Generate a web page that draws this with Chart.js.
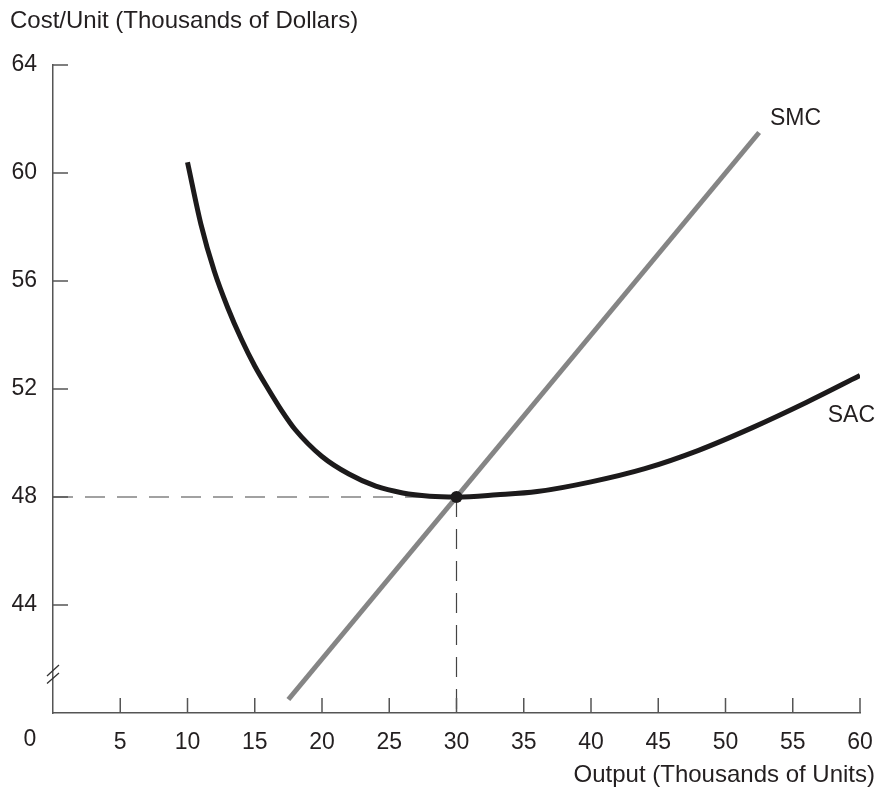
<!DOCTYPE html>
<html>
<head>
<meta charset="utf-8">
<script src="https://cdn.jsdelivr.net/npm/chart.js@4.4.1/dist/chart.umd.min.js"></script>
<style>
  html, body { margin: 0; padding: 0; background: #fff; }
  #wrap { width: 880px; height: 791px; }
</style>
</head>
<body>
<div id="wrap"><canvas id="chart"></canvas></div>
<script>
// output in thousands of units, cost in thousands of dollars
const sacOutput = [10, 11, 12, 13, 14, 15, 16, 17, 18, 20, 22, 24, 26, 28, 30, 33, 36, 40, 44, 48, 52, 56, 60];
const sacCost   = [60.4, 58.1, 56.35, 55.0, 53.85, 52.85, 52.0, 51.2, 50.5, 49.5, 48.85, 48.4, 48.15, 48.03, 48.0, 48.08, 48.2, 48.56, 49.05, 49.73, 50.57, 51.5, 52.5];
const smcOutput = [17.5, 52.5];
const smcCost   = [40.5, 61.5];
const minPoint  = { x: 30, y: 48 };
const xTicks = [0, 5, 10, 15, 20, 25, 30, 35, 40, 45, 50, 55, 60];
const yTicks = [44, 48, 52, 56, 60, 64];

const textColor = '#231f20';
const axisColor = '#555555';
const family = 'Liberation Sans, Arial, sans-serif';
const tickFont = { family: family, size: 23 };
const titleSize = 24;

const pts = (xs, ys) => xs.map((x, i) => ({ x: x, y: ys[i] }));

// inward tick marks, axis break, axis titles and curve labels
const extras = {
  id: 'extras',
  afterDraw(chart) {
    const ctx = chart.ctx;
    const xs = chart.scales.x, ys = chart.scales.y;
    const x0 = xs.getPixelForValue(0), yBase = ys.getPixelForValue(40);
    ctx.save();
    ctx.strokeStyle = axisColor;
    ctx.lineWidth = 1.5;
    ctx.beginPath();
    xTicks.forEach(v => {
      if (v === 0) return;
      const px = xs.getPixelForValue(v);
      ctx.moveTo(px, yBase);
      ctx.lineTo(px, yBase - 15);
    });
    yTicks.forEach(v => {
      const py = ys.getPixelForValue(v);
      ctx.moveTo(x0, py);
      ctx.lineTo(x0 + 15, py);
    });
    ctx.stroke();
    // axis break
    const yb = ys.getPixelForValue(41.5);
    ctx.lineWidth = 1.3;
    ctx.strokeStyle = '#333';
    ctx.beginPath();
    ctx.moveTo(x0 - 6, yb + 3.5); ctx.lineTo(x0 + 6, yb - 7.5);
    ctx.moveTo(x0 - 6, yb + 11); ctx.lineTo(x0 + 6, yb + 0.5);
    ctx.stroke();

    ctx.fillStyle = textColor;
    ctx.textBaseline = 'middle';
    ctx.font = tickFont.size + 'px ' + family;
    ctx.textAlign = 'center';
    ctx.fillText('0', x0 - 23, yBase + 27);
    ctx.textAlign = 'left';
    ctx.fillText('SMC', xs.getPixelForValue(53.3), ys.getPixelForValue(62.0));
    ctx.fillText('SAC', xs.getPixelForValue(57.6), ys.getPixelForValue(51.0));
    ctx.font = titleSize + 'px ' + family;
    ctx.fillText('Cost/Unit (Thousands of Dollars)', 10, 21);
    ctx.textAlign = 'right';
    ctx.fillText('Output (Thousands of Units)', chart.width - 5, 775);
    ctx.restore();
  }
};

new Chart(document.getElementById('chart'), {
  type: 'line',
  data: {
    datasets: [
      {
        label: 'guide h',
        data: [{ x: 0, y: minPoint.y }, minPoint],
        borderColor: '#444', borderWidth: 1.2, borderDash: [20, 12],
        pointRadius: 0, order: 3
      },
      {
        label: 'guide v',
        data: [minPoint, { x: minPoint.x, y: 40 }],
        borderColor: '#444', borderWidth: 1.2, borderDash: [20, 12],
        pointRadius: 0, order: 3
      },
      {
        label: 'SMC',
        data: pts(smcOutput, smcCost),
        borderColor: '#858585', borderWidth: 5, pointRadius: 0,
        borderCapStyle: 'butt', order: 2
      },
      {
        label: 'SAC',
        data: pts(sacOutput, sacCost),
        borderColor: '#1c1a1b', borderWidth: 5, pointRadius: 0,
        cubicInterpolationMode: 'monotone', order: 1
      },
      {
        label: 'minimum',
        data: [minPoint],
        pointRadius: 6, pointBackgroundColor: '#1c1a1b', pointBorderWidth: 0,
        showLine: false, order: 0
      }
    ]
  },
  options: {
    responsive: true,
    maintainAspectRatio: false,
    animation: false,
    layout: { padding: { left: 10, right: 20, top: 65, bottom: 0 } },
    plugins: {
      legend: { display: false },
      tooltip: { enabled: false }
    },
    scales: {
      x: {
        type: 'linear',
        min: 0, max: 60,
        grid: { display: false, drawTicks: false },
        border: { display: true, color: axisColor, width: 1.5 },
        ticks: {
          stepSize: 5, padding: 16, color: textColor, font: tickFont,
          maxRotation: 0,
          callback: v => (v === 0 ? '' : v)
        },
        afterFit: s => { s.height = 78; s.paddingLeft = 0; s.paddingRight = 0; }
      },
      y: {
        type: 'linear',
        min: 40, max: 64,
        grid: { display: false, drawTicks: false },
        border: { display: true, color: axisColor, width: 1.5 },
        ticks: {
          stepSize: 4, padding: 16, color: textColor, font: tickFont,
          callback: v => (v === 40 ? '' : v)
        },
        afterFit: s => { s.width = 43; s.paddingTop = 0; s.paddingBottom = 0; }
      }
    }
  },
  plugins: [extras]
});
</script>
</body>
</html>
